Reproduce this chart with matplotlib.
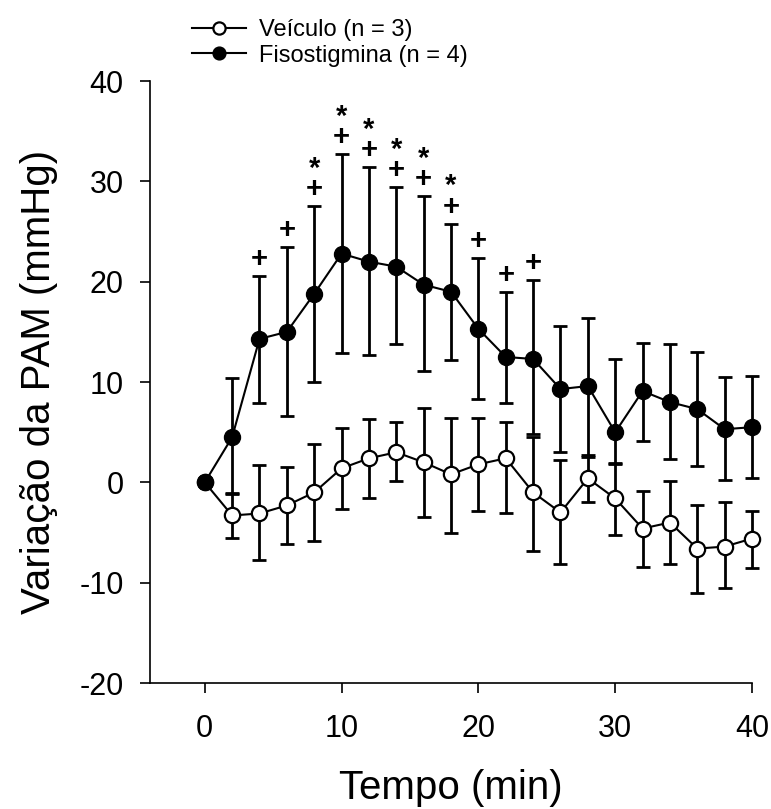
import numpy as np
import matplotlib
matplotlib.use('Agg')
import matplotlib.pyplot as plt

plt.rcParams['font.family'] = ['Liberation Sans', 'DejaVu Sans']
plt.rcParams['axes.unicode_minus'] = False

tempo = [0, 2, 4, 6, 8, 10, 12, 14, 16, 18, 20, 22, 24, 26, 28, 30, 32, 34, 36, 38, 40]

veiculo = [0, -3.3, -3.1, -2.3, -1.0, 1.4, 2.4, 3.0, 2.0, 0.8, 1.8, 2.4, -1.0, -3.0, 0.4, -1.6, -4.6, -4.0, -6.6, -6.4, -5.6]
veiculo_sup = [0, -1.2, 1.7, 1.5, 3.8, 5.4, 6.3, 6.0, 7.4, 6.4, 6.4, 6.0, 4.5, 2.2, 2.5, 1.9, -0.9, 0.1, -2.3, -2.0, -2.9]
veiculo_inf = [0, -5.5, -7.7, -6.1, -5.8, -2.7, -1.6, 0.1, -3.5, -5.0, -2.9, -3.1, -6.8, -8.1, -2.0, -5.2, -8.4, -8.1, -11.0, -10.5, -8.5]

fiso = [0, 4.5, 14.3, 15.0, 18.8, 22.8, 22.0, 21.5, 19.7, 19.0, 15.3, 12.5, 12.3, 9.3, 9.6, 5.0, 9.1, 8.0, 7.3, 5.3, 5.5]
fiso_sup = [0, 10.4, 20.6, 23.5, 27.5, 32.7, 31.4, 29.4, 28.5, 25.8, 22.4, 19.0, 20.2, 15.6, 16.4, 12.3, 13.9, 13.8, 13.0, 10.5, 10.6]
fiso_inf = [0, -1.1, 7.9, 6.6, 10.0, 12.9, 12.7, 13.8, 11.1, 12.2, 8.3, 7.9, 4.8, 3.0, 2.7, 1.8, 4.1, 2.3, 1.6, 0.2, 0.4]

# marcas de significancia (Fisostigmina)
t_cruz = [4, 6, 8, 10, 12, 14, 16, 18, 20, 22, 24]
t_asterisco = [8, 10, 12, 14, 16, 18]

fig = plt.figure(figsize=(7.71, 8.09), dpi=100)
ax = fig.add_axes([0.1946, 0.1557, 0.7808, 0.7441])

v = np.array(veiculo)
f = np.array(fiso)
v_err = [v - np.array(veiculo_inf), np.array(veiculo_sup) - v]
f_err = [f - np.array(fiso_inf), np.array(fiso_sup) - f]

ax.errorbar(tempo, veiculo, yerr=v_err, fmt='none', ecolor='k', elinewidth=2,
            capsize=5, capthick=2, clip_on=False, zorder=2)
ax.errorbar(tempo, fiso, yerr=f_err, fmt='none', ecolor='k', elinewidth=2,
            capsize=5, capthick=2, clip_on=False, zorder=2)
ax.plot(tempo, veiculo, '-o', color='k', lw=1.5, ms=11, mfc='white', mec='k', mew=1.6,
        clip_on=False, zorder=3, label='Veículo (n = 3)')
ax.plot(tempo, fiso, '-o', color='k', lw=1.5, ms=11.5, mfc='k', mec='k',
        clip_on=False, zorder=3, label='Fisostigmina (n = 4)')

# + e * empilhados num unico texto por ponto
sup = dict(zip(tempo, fiso_sup))
for t in t_cruz:
    marca = '*\n+' if t in t_asterisco else '+'
    ax.text(t, sup[t] + 0.3, marca, ha='center', va='bottom', fontsize=21,
            fontweight='bold', linespacing=0.65, multialignment='center')

ax.set_xlim(-4, 40)
ax.set_ylim(-20, 40)
ax.set_xticks([0, 10, 20, 30, 40])
ax.set_yticks([-20, -10, 0, 10, 20, 30, 40])
ax.spines['top'].set_visible(False)
ax.spines['right'].set_visible(False)
ax.spines['left'].set_linewidth(1.2)
ax.spines['bottom'].set_linewidth(1.2)
ax.tick_params(direction='out', length=7, width=1.2, labelsize=22, pad=12)
ax.tick_params(axis='x', pad=15)

ax.set_xlabel('Tempo (min)', fontsize=29, labelpad=18)
ax.set_ylabel('Variação da PAM (mmHg)', fontsize=29, labelpad=15)

ax.legend(loc='center left', bbox_to_anchor=(192 / 771, 0.947), bbox_transform=fig.transFigure,
          frameon=False, fontsize=17, handlelength=2.3, handletextpad=0.55, labelspacing=0.15,
          borderpad=0, borderaxespad=0, markerscale=0.8)

plt.savefig('out.png', dpi=100)
